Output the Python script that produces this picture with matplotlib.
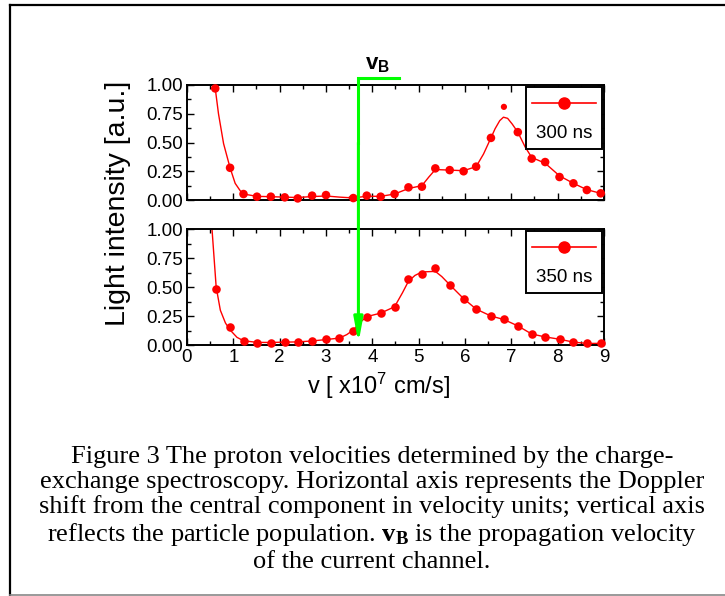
import numpy as np
import matplotlib
matplotlib.use("Agg")
import matplotlib.pyplot as plt
from matplotlib.lines import Line2D
from matplotlib.offsetbox import AnchoredOffsetbox, DrawingArea, TextArea, VPacker
from matplotlib.ticker import MultipleLocator, FormatStrFormatter

plt.rcParams['font.family'] = ['Liberation Sans', 'DejaVu Sans']
plt.rcParams['mathtext.fontset'] = 'custom'
plt.rcParams['mathtext.rm'] = 'Liberation Sans'
plt.rcParams['mathtext.it'] = 'Liberation Sans:italic'
plt.rcParams['mathtext.bf'] = 'Liberation Serif:bold'
plt.rcParams['mathtext.sf'] = 'Liberation Sans:bold'

# measured points (velocity in 1e7 cm/s, light intensity a.u.)
v_300 = [0.61, 0.93, 1.22, 1.51, 1.81, 2.11, 2.39, 2.70, 3.00, 3.59, 3.88, 4.18, 4.48,
         4.78, 5.07, 5.36, 5.67, 5.97, 6.24, 6.56, 6.84, 7.14, 7.44, 7.73, 8.04, 8.34,
         8.63, 8.93]
i_300 = [0.97, 0.28, 0.052, 0.029, 0.029, 0.023, 0.014, 0.038, 0.043, 0.017, 0.038, 0.029,
         0.052, 0.11, 0.116, 0.275, 0.26, 0.25, 0.29, 0.54, 0.81, 0.59, 0.36, 0.33, 0.20,
         0.145, 0.087, 0.058]
small_dot_v = 6.84   # the peak point is drawn as a small dot

v_350 = [0.63, 0.93, 1.22, 1.51, 1.81, 2.11, 2.39, 2.70, 3.00, 3.29, 3.59, 3.88, 4.18,
         4.48, 4.78, 5.07, 5.36, 5.67, 5.97, 6.24, 6.56, 6.84, 7.14, 7.44, 7.73, 8.04,
         8.34, 8.63, 8.93]
i_350 = [0.48, 0.153, 0.037, 0.020, 0.020, 0.029, 0.029, 0.037, 0.049, 0.058, 0.121,
         0.245, 0.274, 0.33, 0.57, 0.61, 0.66, 0.52, 0.395, 0.31, 0.25, 0.225, 0.164,
         0.092, 0.072, 0.049, 0.023, 0.014, 0.014]

# smoothed curves
fit_v_300 = [0.61, 0.68, 0.79, 0.93, 1.04, 1.15, 1.22, 1.51, 1.81, 2.11, 2.39, 2.70, 3.00,
             3.30, 3.59, 3.88, 4.18, 4.48, 4.78, 5.07, 5.22, 5.36, 5.67, 5.97, 6.24, 6.40,
             6.56, 6.65, 6.75, 6.83, 6.92, 7.02, 7.14, 7.30, 7.44, 7.73, 8.04, 8.34, 8.63,
             8.93]
fit_i_300 = [0.97, 0.75, 0.49, 0.28, 0.145, 0.08, 0.052, 0.032, 0.029, 0.025, 0.022, 0.03,
             0.035, 0.025, 0.018, 0.033, 0.032, 0.052, 0.10, 0.125, 0.20, 0.265, 0.26,
             0.255, 0.29, 0.40, 0.54, 0.62, 0.69, 0.72, 0.71, 0.66, 0.59, 0.46, 0.37, 0.32,
             0.21, 0.145, 0.09, 0.058]

fit_v_350 = [0.54, 0.63, 0.72, 0.83, 0.93, 1.08, 1.22, 1.51, 1.81, 2.11, 2.39, 2.70, 3.00,
             3.29, 3.45, 3.59, 3.75, 3.88, 4.18, 4.48, 4.65, 4.78, 4.92, 5.07, 5.36, 5.50,
             5.67, 5.97, 6.24, 6.56, 6.84, 7.14, 7.44, 7.73, 8.04, 8.34, 8.63, 8.93]
fit_i_350 = [1.0, 0.50, 0.30, 0.19, 0.13, 0.066, 0.037, 0.023, 0.022, 0.025, 0.027, 0.035,
             0.047, 0.06, 0.09, 0.13, 0.20, 0.245, 0.275, 0.33, 0.45, 0.55, 0.60, 0.63,
             0.635, 0.59, 0.52, 0.40, 0.31, 0.25, 0.22, 0.165, 0.095, 0.07, 0.05, 0.025,
             0.014, 0.014]

v_beam = 3.70       # propagation velocity of the current channel
v_beam_bar = 4.57   # end of the little flag on top

red = '#ff0000'
green = '#00ff00'

fig = plt.figure(figsize=(7.25, 5.96), dpi=100)
ax_top = fig.add_axes([0.2579, 0.6644, 0.5752, 0.1930])
ax_bot = fig.add_axes([0.2579, 0.4211, 0.5752, 0.1946])


def style_axis(ax, show_x):
    ax.set_xlim(0, 9)
    ax.set_ylim(0, 1)
    ax.xaxis.set_major_locator(MultipleLocator(1))
    ax.xaxis.set_minor_locator(MultipleLocator(0.5))
    ax.yaxis.set_major_locator(MultipleLocator(0.25))
    ax.yaxis.set_minor_locator(MultipleLocator(0.125))
    ax.yaxis.set_major_formatter(FormatStrFormatter('%.2f'))
    ax.tick_params(which='both', direction='in', top=True, right=True, width=1.0,
                   labelsize=13.5, pad=3)
    ax.tick_params(which='major', length=5)
    ax.tick_params(which='minor', length=3)
    if not show_x:
        ax.tick_params(axis='x', labelbottom=False)
    for s in ax.spines.values():
        s.set_linewidth(1.4)


def legend_box(ax, label):
    da = DrawingArea(46, 14, 0, 0)
    da.add_artist(Line2D([0, 46], [7, 7], color=red, lw=1.2))
    da.add_artist(Line2D([23], [7], color=red, marker='o', markersize=8))
    txt = TextArea(label, textprops=dict(fontsize=13.5))
    box = VPacker(children=[da, txt], align='center', pad=0, sep=9)
    anc = AnchoredOffsetbox(loc='upper right', child=box, pad=0.45, borderpad=0.15,
                            frameon=True, bbox_to_anchor=(1, 1),
                            bbox_transform=ax.transAxes)
    anc.patch.set_edgecolor('black')
    anc.patch.set_linewidth(1.4)
    anc.patch.set_boxstyle('square', pad=0)
    ax.add_artist(anc)


# 300 ns panel
ax_top.plot(fit_v_300, fit_i_300, color=red, lw=1.0)
sizes = np.where(np.isclose(v_300, small_dot_v), 20.0, 38.0)
ax_top.scatter(v_300, i_300, s=sizes, color=red, zorder=3, clip_on=False, linewidths=0)
style_axis(ax_top, False)
legend_box(ax_top, '300 ns')

# 350 ns panel
ax_bot.plot(fit_v_350, fit_i_350, color=red, lw=1.0)
ax_bot.scatter(v_350, i_350, s=38, color=red, zorder=3, clip_on=False, linewidths=0)
style_axis(ax_bot, True)
legend_box(ax_bot, '350 ns')

ax_bot.set_xlabel(r'v [ x10$^7$ cm/s]', fontsize=17)
ax_bot.xaxis.set_label_coords(0.46, -0.22)
fig.text(0.163, 0.659, 'Light intensity [a.u.]', rotation=90, fontsize=20.5,
         ha='center', va='center')

# v_B marker: flag on top, arrow down into the lower panel
flag_y = 1.061
ax_top.plot([v_beam, v_beam, v_beam_bar], [0.5, flag_y, flag_y], color=green, lw=2.2,
            transform=ax_top.get_xaxis_transform(), clip_on=False, zorder=5,
            solid_joinstyle='miter')
ax_bot.annotate('', xy=(v_beam, 0.015), xycoords='data',
                xytext=(v_beam, 0.5), textcoords=ax_top.get_xaxis_transform(),
                arrowprops=dict(arrowstyle='-|>,head_length=1.2,head_width=0.22',
                                color=green, lw=2.2, mutation_scale=12,
                                shrinkA=0, shrinkB=0),
                zorder=5, annotation_clip=False)
ax_top.text(3.85, 1.18, r'$\mathsf{v_B}$', transform=ax_top.get_xaxis_transform(),
            fontsize=16, ha='left', va='center', clip_on=False)

# caption
caption = ("Figure 3 The proton velocities determined by the charge-\n"
           "exchange spectroscopy. Horizontal axis represents the Doppler\n"
           "shift from the central component in velocity units; vertical axis\n"
           r"reflects the particle population. $\mathbf{v_B}$ is the propagation velocity" "\n"
           "of the current channel.")
fig.text(0.513, 1 - 446 / 596, caption, ha='center', va='top', multialignment='center',
         fontsize=19, family='Liberation Serif', linespacing=1.15)

# page frame
fig.add_artist(Line2D([9.5 / 725, 1.0], [1 - 5 / 596, 1 - 5 / 596], color='black', lw=1.6,
                      transform=fig.transFigure))
fig.add_artist(Line2D([9.5 / 725, 9.5 / 725], [1 - 5 / 596, 1 - 595 / 596], color='black',
                      lw=1.6, transform=fig.transFigure))
fig.add_artist(Line2D([9.5 / 725, 1.0], [1 - 595 / 596, 1 - 595 / 596], color='#888888',
                      lw=1.2, transform=fig.transFigure))

fig.savefig('out.png', dpi=100)
